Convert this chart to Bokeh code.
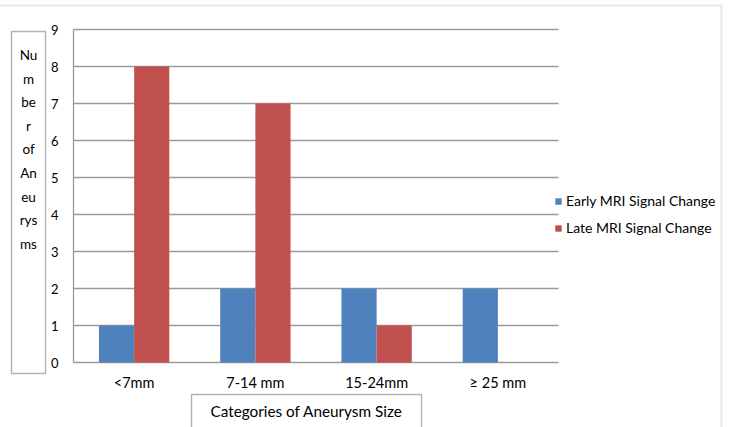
from bokeh.plotting import figure
from bokeh.models import (ColumnDataSource, Range1d, Legend, LegendItem, Label, BoxAnnotation)
from bokeh.core.properties import value
from bokeh.embed import file_html
from bokeh.resources import INLINE

categories = ["<7mm", "7-14 mm", "15-24mm", "\u2265 25 mm"]
early = [1, 2, 2, 2]
late = [8, 7, 1, 0]
series_names = ["Early MRI Signal Change", "Late MRI Signal Change"]
y_ticks = [0, 1, 2, 3, 4, 5, 6, 7, 8, 9]
y_title_lines = ["Nu", "m", "be", "r", "of", "An", "eu", "rys", "ms"]
x_title = "Categories of Aneurysm Size"

BLUE = "#4F81BD"
RED = "#C0504D"
GRID = "#9A9A9A"
FONT = "Lato"

# canvas layout (pixels)
W, H = 729, 427
PL, PR, PT, PB = 73, 558, 29, 362          # plot-area edges
n = len(categories)
ymax = y_ticks[-1]
ux = (PR - PL) / n                          # pixels per category
uy = (PB - PT) / ymax                       # pixels per y unit

x_range = Range1d(-PL / ux, n + (W - PR) / ux)
y_range = Range1d(-(H - PB) / uy, ymax + PT / uy)

p = figure(width=W, height=H, x_range=x_range, y_range=y_range, title=None,
           x_axis_location=None, y_axis_location=None, min_border=0,
           output_backend="svg", toolbar_location=None)
p.outline_line_color = None
p.xgrid.visible = False
p.ygrid.visible = False
p.background_fill_color = "white"

idx = list(range(n))
xc = [i + 0.5 for i in idx]
src = ColumnDataSource(dict(cat=categories, xc=xc,
                            xe=[x - 0.145 for x in xc], xl=[x + 0.145 for x in xc],
                            early=early, late=late))

# gridlines and axis lines
gsrc = ColumnDataSource(dict(y=y_ticks, x0=[0] * len(y_ticks), x1=[n] * len(y_ticks),
                             lab=[str(t) for t in y_ticks]))
p.segment(x0="x0", x1="x1", y0="y", y1="y", source=gsrc, line_color=GRID, line_width=1.3)
p.segment(x0=[0], x1=[0], y0=[0], y1=[ymax], line_color=GRID, line_width=1.3)

r1 = p.vbar(x="xe", top="early", width=0.29, source=src, fill_color=BLUE, line_color=None)
r2 = p.vbar(x="xl", top="late", width=0.29, source=src, fill_color=RED, line_color=None)

# tick labels
p.text(x=0, y="y", text="lab", source=gsrc, x_offset=-15, text_align="right",
       text_baseline="middle", text_font=value(FONT), text_font_size="13px", text_color="black")
p.text(x="xc", y=0, text="cat", source=src, y_offset=20, text_align="center",
       text_baseline="middle", text_font=value(FONT), text_font_size="14.5px", text_color="black")

legend = Legend(items=[LegendItem(label=series_names[0], renderers=[r1]),
                       LegendItem(label=series_names[1], renderers=[r2])],
                location=(554, 189.5), orientation="vertical",
                glyph_width=8, glyph_height=8, label_height=20, spacing=7,
                label_standoff=4, padding=0, margin=0,
                border_line_color=None, background_fill_alpha=0,
                label_text_font=FONT, label_text_font_size="14px", label_text_color="black")
p.add_layout(legend, "center")

def sbox(left, right, top, bottom, color, lw):
    return BoxAnnotation(left=left, right=right, top=H - top, bottom=H - bottom,
                         left_units="screen", right_units="screen",
                         top_units="screen", bottom_units="screen",
                         fill_alpha=0, line_color=color, line_width=lw)

# outer chart border
p.add_layout(sbox(-10, 721, 5, H + 10, "#B4B4B4", 2))
# y-title box
p.add_layout(sbox(11, 45, 31, 373, "black", 1.4))
p.add_layout(Label(x=28, y=H - 149, x_units="screen", y_units="screen",
                   text="\n".join(y_title_lines), text_align="center", text_baseline="middle",
                   text_font=FONT, text_font_size="13.5px", text_line_height=1.476,
                   text_color="black"))
# x-title box
p.add_layout(sbox(191, 421, 394, H + 10, "black", 1.4))
p.add_layout(Label(x=306, y=H - 410, x_units="screen", y_units="screen",
                   text=x_title, text_align="center", text_baseline="middle",
                   text_font=FONT, text_font_size="15.3px", text_color="black"))

open("out.html", "w").write(file_html(p, INLINE))
